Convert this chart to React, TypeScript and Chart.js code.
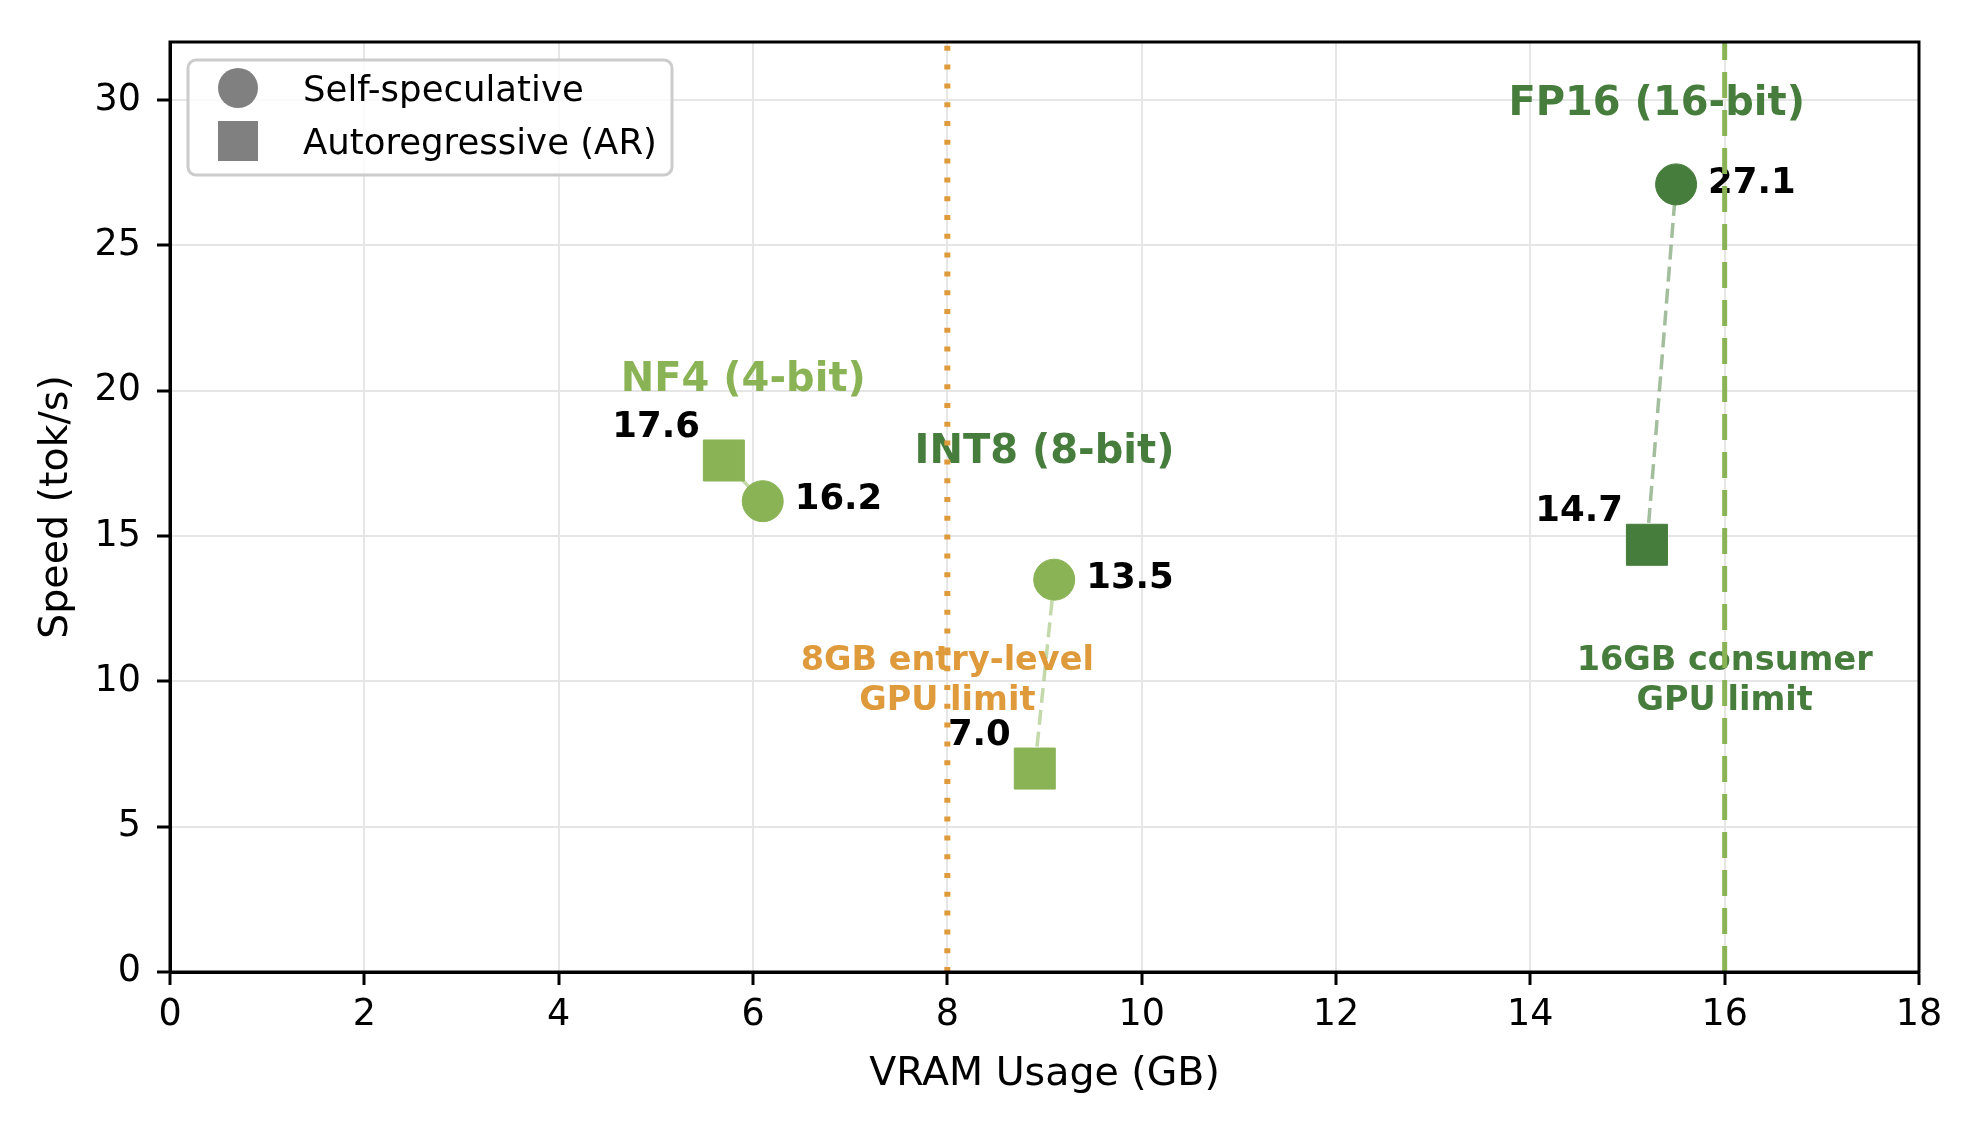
import React, { useEffect, useRef } from 'react';
import { Chart, registerables } from 'chart.js';

Chart.register(...registerables);

// ---------------- data ----------------
const quantLevels = ['NF4 (4-bit)', 'INT8 (8-bit)', 'FP16 (16-bit)'];
const selfSpecVram = [6.1, 9.1, 15.5];
const selfSpecSpeed = [16.2, 13.5, 27.1];
const arVram = [5.7, 8.9, 15.2];
const arSpeed = [17.6, 7.0, 14.7];
const quantLabelX = [5.9, 9.0, 15.3];
const quantLabelY = [20.5, 18.0, 30.0];
const gpuLimitGB = [8, 16];
const gpuLimitLabels = [
  ['8GB entry-level', 'GPU limit'],
  ['16GB consumer', 'GPU limit'],
];
const gpuLimitLabelY = [10.1, 10.1];
const legendLabels = ['Self-speculative', 'Autoregressive (AR)'];
const xAxisTitle = 'VRAM Usage (GB)';
const yAxisTitle = 'Speed (tok/s)';

// ---------------- style ----------------
const LIGHT = '#8AB356';
const DARK = '#477D3C';
const ORANGE = '#DE9A3B';
const markerColors = [LIGHT, LIGHT, DARK];
const connectorColors = ['rgba(138,179,86,0.5)', 'rgba(138,179,86,0.5)', 'rgba(71,125,60,0.5)'];
const quantLabelColors = [LIGHT, DARK, DARK];
const limitLineColors = [ORANGE, LIGHT];
const limitLineDash = [[5, 13.8], [26, 12]];
const limitTextColors = [ORANGE, DARK];
const FONT = "'DejaVu Sans', 'Liberation Sans', sans-serif";
const TEXT_DY = 4;

const overlayPlugin = {
  id: 'overlay',
  afterDatasetsDraw(chart: any) {
    const { ctx, scales } = chart;
    const xs = scales.x;
    const ys = scales.y;
    ctx.save();
    // quant labels
    ctx.font = `bold 40px ${FONT}`;
    ctx.textAlign = 'center';
    ctx.textBaseline = 'middle';
    quantLevels.forEach((q, i) => {
      ctx.fillStyle = quantLabelColors[i];
      ctx.fillText(q, xs.getPixelForValue(quantLabelX[i]), ys.getPixelForValue(quantLabelY[i]) + TEXT_DY);
    });
    // value labels
    ctx.font = `bold 35.5px ${FONT}`;
    ctx.fillStyle = '#000';
    quantLevels.forEach((_, i) => {
      const sx = xs.getPixelForValue(selfSpecVram[i]);
      const sy = ys.getPixelForValue(selfSpecSpeed[i]);
      ctx.textAlign = 'left';
      ctx.fillText(selfSpecSpeed[i].toFixed(1), sx + 32, sy - 1);
      const ax = xs.getPixelForValue(arVram[i]);
      const ay = ys.getPixelForValue(arSpeed[i]);
      ctx.textAlign = 'right';
      ctx.fillText(arSpeed[i].toFixed(1), ax - 24, ay - 37 + TEXT_DY);
    });
    // limit labels
    ctx.font = `bold 33.5px ${FONT}`;
    ctx.textAlign = 'center';
    gpuLimitGB.forEach((g, i) => {
      ctx.fillStyle = limitTextColors[i];
      const cx = xs.getPixelForValue(g);
      const cy = ys.getPixelForValue(gpuLimitLabelY[i]) + TEXT_DY - 1;
      const lines = gpuLimitLabels[i];
      lines.forEach((ln, k) => {
        ctx.fillText(ln, cx, cy + (k - (lines.length - 1) / 2) * 40);
      });
    });
    ctx.restore();
  },
  afterDraw(chart: any) {
    const { ctx, scales, chartArea } = chart;
    const xs = scales.x;
    ctx.save();
    // vertical limit lines
    gpuLimitGB.forEach((g, i) => {
      const px = xs.getPixelForValue(g);
      ctx.strokeStyle = limitLineColors[i];
      ctx.lineWidth = i === 0 ? 6 : 5;
      ctx.lineCap = 'butt';
      ctx.setLineDash(limitLineDash[i]);
      ctx.beginPath();
      ctx.moveTo(px, chartArea.bottom);
      ctx.lineTo(px, chartArea.top);
      ctx.stroke();
    });
    ctx.setLineDash([]);
    // frame
    ctx.strokeStyle = '#000';
    ctx.lineWidth = 3;
    ctx.strokeRect(chartArea.left, chartArea.top, chartArea.right - chartArea.left, chartArea.bottom - chartArea.top);
    // legend
    const lx = 188, ly = 60, lw = 484, lh = 115, r = 8;
    ctx.beginPath();
    ctx.moveTo(lx + r, ly);
    ctx.arcTo(lx + lw, ly, lx + lw, ly + lh, r);
    ctx.arcTo(lx + lw, ly + lh, lx, ly + lh, r);
    ctx.arcTo(lx, ly + lh, lx, ly, r);
    ctx.arcTo(lx, ly, lx + lw, ly, r);
    ctx.closePath();
    ctx.fillStyle = 'rgba(255,255,255,0.8)';
    ctx.fill();
    ctx.strokeStyle = '#cccccc';
    ctx.lineWidth = 3;
    ctx.stroke();
    ctx.fillStyle = '#808080';
    ctx.beginPath();
    ctx.arc(238, 88, 20, 0, Math.PI * 2);
    ctx.fill();
    ctx.fillRect(218, 121, 40, 40);
    ctx.fillStyle = '#000';
    ctx.font = `35.5px ${FONT}`;
    ctx.textAlign = 'left';
    ctx.textBaseline = 'middle';
    ctx.fillText(legendLabels[0], 303, 88 + TEXT_DY);
    ctx.fillText(legendLabels[1], 303, 141 + TEXT_DY);
    ctx.restore();
  },
};

export default function App() {
  const ref = useRef<HTMLCanvasElement | null>(null);
  useEffect(() => {
    document.body.style.margin = '0';
    const canvas = ref.current;
    if (!canvas) return;
    const connectorSets = quantLevels.map((q, i) => ({
      label: q + ' connector',
      data: [
        { x: arVram[i], y: arSpeed[i] },
        { x: selfSpecVram[i], y: selfSpecSpeed[i] },
      ],
      showLine: true,
      borderColor: connectorColors[i],
      borderWidth: 3.5,
      borderDash: [15, 7],
      pointRadius: 0,
      pointHoverRadius: 0,
      order: 3,
    }));
    const chart = new Chart(canvas, {
      type: 'scatter',
      data: {
        datasets: [
          ...connectorSets,
          {
            label: legendLabels[0],
            data: selfSpecVram.map((x, i) => ({ x, y: selfSpecSpeed[i] })),
            pointStyle: 'circle',
            pointRadius: 20.5,
            pointHoverRadius: 20.5,
            backgroundColor: markerColors,
            borderColor: markerColors,
            borderWidth: 1,
            order: 1,
          },
          {
            label: legendLabels[1],
            data: arVram.map((x, i) => ({ x, y: arSpeed[i] })),
            pointStyle: 'rect',
            pointRadius: 29,
            pointHoverRadius: 29,
            backgroundColor: markerColors,
            borderColor: markerColors,
            borderWidth: 1,
            order: 1,
          },
        ],
      },
      options: {
        animation: false,
        responsive: false,
        devicePixelRatio: 1,
        layout: { padding: { left: 0, top: 42, right: 53, bottom: 0 } },
        plugins: { legend: { display: false }, tooltip: { enabled: false } },
        events: [],
        scales: {
          x: {
            type: 'linear',
            min: 0,
            max: 18,
            afterFit: (s: any) => { s.height = 168; },
            ticks: { stepSize: 2, color: '#000', font: { family: FONT, size: 36.5 }, padding: 9, includeBounds: false },
            grid: { color: '#e6e6e6', lineWidth: 2, tickColor: '#000', tickLength: 13, tickWidth: 3 },
            border: { display: true, color: '#000', width: 3 },
            title: { display: true, text: xAxisTitle, color: '#000', font: { family: FONT, size: 39.5 }, padding: { top: 0, bottom: 42 } },
          },
          y: {
            type: 'linear',
            min: 0,
            max: 32,
            afterFit: (s: any) => { s.width = 170; },
            afterBuildTicks: (s: any) => { s.ticks = s.ticks.filter((t: any) => t.value % 5 === 0 && t.value <= 30); },
            ticks: { stepSize: 5, color: '#000', font: { family: FONT, size: 36.5 }, padding: 16, includeBounds: false },
            grid: { color: '#e6e6e6', lineWidth: 2, tickColor: '#000', tickLength: 13, tickWidth: 3 },
            border: { display: true, color: '#000', width: 3 },
            title: { display: true, text: yAxisTitle, color: '#000', font: { family: FONT, size: 39.5 }, padding: { top: 33, bottom: 0 } },
          },
        },
      },
      plugins: [overlayPlugin],
    } as any);
    return () => chart.destroy();
  }, []);
  return (
    <div style={{ width: 1972, height: 1140, background: '#fff' }}>
      <canvas ref={ref} width={1972} height={1140} style={{ width: 1972, height: 1140, display: 'block' }} />
    </div>
  );
}
